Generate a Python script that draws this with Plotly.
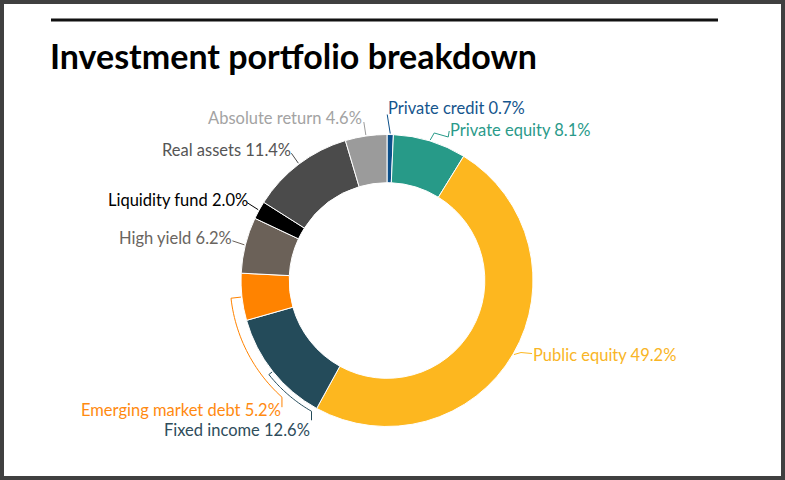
import numpy as np
import plotly.graph_objects as go

W, H = 785, 480

# data
labels = ["Private credit", "Private equity", "Public equity", "Fixed income",
          "Emerging market debt", "High yield", "Liquidity fund", "Real assets",
          "Absolute return"]
shares = [0.7, 8.1, 49.2, 12.6, 5.2, 6.2, 2.0, 11.4, 4.6]
slice_colors = ["#0b4f8a", "#279a88", "#fdb71f", "#244b5a", "#ff8300",
                "#6b6158", "#000000", "#4b4b4b", "#9b9b9b"]
text_colors = ["#15558d", "#2a9a8a", "#f9b526", "#2f4d5c", "#ff8a10",
               "#6a6560", "#000000", "#555555", "#a3a3a3"]

# donut geometry (pixels)
cx, cy, r = 387, 280.5, 146
LABEL_FONT = dict(family="Lato", size=16.5)


def px(x):
    return x / W


def py(y):
    return 1 - y / H


def point(deg, rad):
    t = np.radians(deg)
    return cx + rad * np.sin(t), cy - rad * np.cos(t)


def path_of(pts):
    return "M " + " L ".join(f"{px(x):.5f},{py(y):.5f}" for x, y in pts)


# mid angle of every slice, clockwise from 12 o'clock
cum = np.cumsum([0] + shares)
mids = [(cum[i] + shares[i] / 2) / cum[-1] * 360 for i in range(len(shares))]

# leader waypoints (pixel offsets from the slice tip) and text side
leaders = {
    "Private credit": ([(-3, -19)], "left", (-1, -7)),
    "Private equity": ([(4, -7), (18, -3), (19, -9)], "left", (-1, -1)),
    "Public equity": ([(7, -2), (18, -1)], "left", (-1, 1)),
    "High yield": ([(-12, -4)], "right", (2, -3)),
    "Liquidity fund": ([(-11, -7)], "right", (3, -3)),
    "Real assets": ([(-7, -10)], "right", (2, -3)),
    "Absolute return": ([(-2, -13)], "right", (0, -4)),
}
# arc leaders: (arc radius gap, end angle, drop, text offset)
arcs = {
    "Fixed income": (5, 210, 9, (0, 10)),
    "Emerging market debt": (11, 222, 10, (1, 3)),
}

shapes = [
    dict(type="rect", xref="paper", yref="paper", x0=0, x1=1, y0=0, y1=1,
         line=dict(color="#404040", width=8)),
    dict(type="line", xref="paper", yref="paper", x0=px(51), x1=px(718),
         y0=py(20), y1=py(20), line=dict(color="#111111", width=3)),
]
annotations = [
    dict(text="<b>Investment portfolio breakdown</b>", xref="paper", yref="paper",
         x=px(48), y=py(55), xanchor="left", yanchor="middle", showarrow=False,
         font=dict(family="Lato", size=34, color="#000000")),
]

for i, name in enumerate(labels):
    col = text_colors[i]
    txt = f"{name} {shares[i]:.1f}%"
    if name in arcs:
        gap, end_deg, drop, toff = arcs[name]
        a = point(mids[i], r + 1)
        angs = np.linspace(mids[i], end_deg, 30)
        pts = [a] + [point(d, r + gap) for d in angs]
        ex, ey = pts[-1]
        pts.append((ex, ey + drop))
        shapes.append(dict(type="path", xref="paper", yref="paper", path=path_of(pts),
                           line=dict(color=slice_colors[i], width=1)))
        annotations.append(dict(text=txt, xref="paper", yref="paper",
                                x=px(ex + toff[0]), y=py(ey + drop + toff[1]),
                                xanchor="right", yanchor="middle", showarrow=False,
                                font=dict(LABEL_FONT, color=col)))
        continue
    offs, side, toff = leaders[name]
    tx, ty = point(mids[i], r + 1)
    pts = [(tx, ty)] + [(tx + dx, ty + dy) for dx, dy in offs]
    shapes.append(dict(type="path", xref="paper", yref="paper", path=path_of(pts),
                       line=dict(color=slice_colors[i], width=1)))
    ex, ey = pts[-1]
    annotations.append(dict(text=txt, xref="paper", yref="paper",
                            x=px(ex + toff[0]), y=py(ey + toff[1]),
                            xanchor=side, yanchor="middle", showarrow=False,
                            font=dict(LABEL_FONT, color=col)))

fig = go.Figure(go.Pie(
    labels=labels,
    values=shares,
    sort=False,
    direction="clockwise",
    rotation=0,
    hole=0.67,
    textinfo="none",
    marker=dict(colors=slice_colors, line=dict(color="white", width=1)),
    domain=dict(x=[px(cx - r), px(cx + r)], y=[py(cy + r), py(cy - r)]),
))

fig.update_layout(
    width=W, height=H,
    margin=dict(l=0, r=0, t=0, b=0),
    paper_bgcolor="white",
    showlegend=False,
    shapes=shapes,
    annotations=annotations,
)

# drop the browser's default body margin so the figure fills the window
fig.write_html("out.html", config={"displayModeBar": False},
               post_script="document.body.style.margin = '0';")
